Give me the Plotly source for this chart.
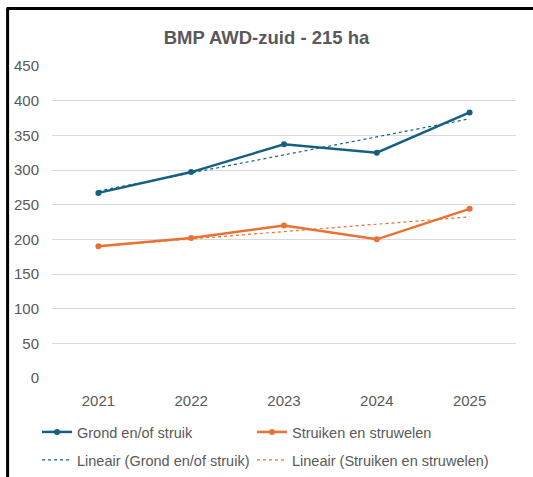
import numpy as np
import plotly.graph_objects as go

years = ["2021", "2022", "2023", "2024", "2025"]
grond = [267, 297, 337, 325, 383]
struiken = [190, 202, 220, 200, 244]
y_ticks = [0, 50, 100, 150, 200, 250, 300, 350, 400, 450]

blue = "#156082"
orange = "#E97132"
grey = "#595959"
font_family = "Liberation Sans Narrow, Liberation Sans, Arial"

# linear trendlines like excel's "Lineair"
xi = np.arange(len(years))
trend_grond = np.polyval(np.polyfit(xi, grond, 1), xi)
trend_struiken = np.polyval(np.polyfit(xi, struiken, 1), xi)

fig = go.Figure()
fig.add_trace(go.Scatter(x=years, y=grond, name="Grond en/of struik", mode="lines+markers",
                         line=dict(color=blue, width=2.5), marker=dict(size=6, color=blue),
                         legend="legend"))
fig.add_trace(go.Scatter(x=years, y=struiken, name="Struiken en struwelen", mode="lines+markers",
                         line=dict(color=orange, width=2.5), marker=dict(size=6, color=orange),
                         legend="legend2"))
fig.add_trace(go.Scatter(x=years, y=trend_grond, name="Lineair (Grond en/of struik)", mode="lines",
                         line=dict(color=blue, width=1.2, dash="dot"), legend="legend3"))
fig.add_trace(go.Scatter(x=years, y=trend_struiken, name="Lineair (Struiken en struwelen)", mode="lines",
                         line=dict(color=orange, width=1.2, dash="dot"), legend="legend4"))

W, H = 533, 477


def px_x(px):
    return (px - 51.5) / 465


def px_y(py):
    return (378 - py) / 312


legend_style = dict(orientation="h", xanchor="left", yanchor="middle",
                    xref="container", yref="container",
                    font=dict(size=14.5, color=grey, family=font_family),
                    bgcolor="rgba(0,0,0,0)", itemwidth=30)

# one legend per entry so the 2x2 grid lands where excel put it
col1, col2 = 37 / W, 252 / W
row1, row2 = 1 - 432 / H, 1 - 460 / H

fig.update_layout(
    width=W, height=H,
    margin=dict(l=51.5, r=16.5, t=66, b=99, autoexpand=False),
    paper_bgcolor="white", plot_bgcolor="white",
    font=dict(family=font_family, color=grey),
    title=dict(text="<b>BMP AWD-zuid - 215 ha</b>", x=0.5, xanchor="center", y=1 - 38 / H,
               yanchor="middle", font=dict(size=18.5, color=grey, family=font_family)),
    xaxis=dict(type="category", range=[-0.5, 4.5], showgrid=False, showline=False, ticks="",
               tickfont=dict(size=15, color=grey), ticklabelstandoff=12),
    yaxis=dict(range=[0, 450], tickvals=y_ticks, showgrid=True, gridcolor="#D9D9D9", gridwidth=1,
               zeroline=False, showline=False, ticks="", tickfont=dict(size=15, color=grey),
               ticklabelstandoff=12),
    legend=dict(x=col1, y=row1, **legend_style),
    legend2=dict(x=col2, y=row1, **legend_style),
    legend3=dict(x=col1, y=row2, **legend_style),
    legend4=dict(x=col2, y=row2, **legend_style),
    showlegend=True,
)

# black border from the screenshot (left and top)
fig.add_shape(type="line", xref="paper", yref="paper", x0=px_x(7), x1=px_x(7),
              y0=px_y(8.5), y1=px_y(480), line=dict(color="black", width=3))
fig.add_shape(type="line", xref="paper", yref="paper", x0=px_x(6), x1=px_x(540),
              y0=px_y(8.5), y1=px_y(8.5), line=dict(color="black", width=3))

# drop the default page margin so the figure sits at the top-left corner
fig.write_html("out.html", config={"displayModeBar": False},
               post_script="document.body.style.margin='0';")
